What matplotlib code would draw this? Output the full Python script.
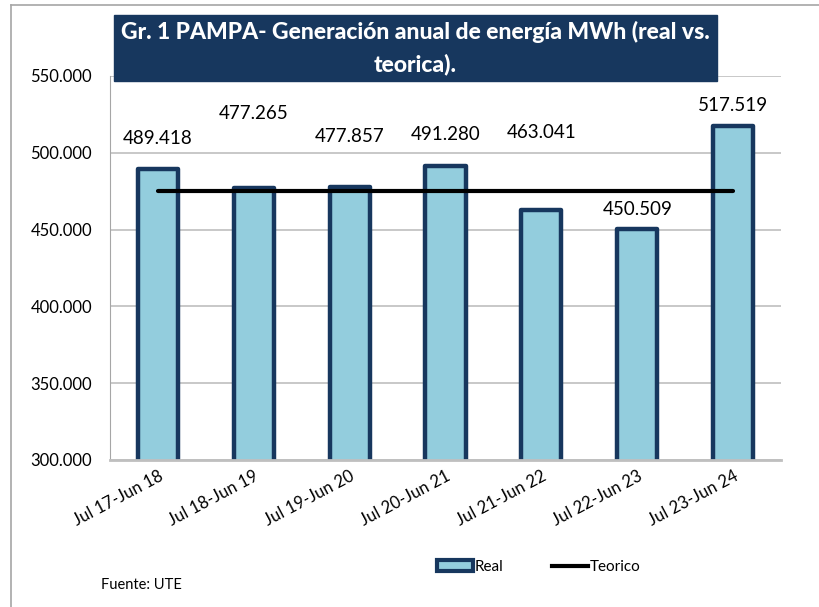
import matplotlib
matplotlib.use("Agg")
import matplotlib.pyplot as plt
from matplotlib.patches import Rectangle, Patch
from matplotlib.lines import Line2D
from matplotlib.ticker import FuncFormatter

categories = ["Jul 17-Jun 18", "Jul 18-Jun 19", "Jul 19-Jun 20", "Jul 20-Jun 21",
              "Jul 21-Jun 22", "Jul 22-Jun 23", "Jul 23-Jun 24"]
real = [489418, 477265, 477857, 491280, 463041, 450509, 517519]
teorico = [475000] * 7
label_y = [509600, 525900, 510300, 511600, 512900, 462800, 530500]

FONT = ["Lato", "DejaVu Sans"]
plt.rcParams['font.family'] = FONT

fig = plt.figure(figsize=(8.19, 6.07), dpi=100)
W, H = 819, 607

# outer border
fig.add_artist(Line2D([11/W, 11/W], [0, 1 - 5/H], color="#A6A6A6", lw=1.2))
fig.add_artist(Line2D([11/W, 1], [1 - 5/H, 1 - 5/H], color="#A6A6A6", lw=1.2))

ax = fig.add_axes([110/W, 1 - 460/H, (781 - 110)/W, (460 - 76)/H])
x = list(range(len(categories)))
ax.bar(x, real, width=0.42, color="#93CDDD", edgecolor="#17375E", linewidth=3.2,
       joinstyle="round", zorder=2, label="Real")
ax.plot(x, teorico, color="black", lw=3, solid_capstyle="round", zorder=3, label="Teorico")

for xi, v, ly in zip(x, real, label_y):
    ax.text(xi, ly, f"{v:,}".replace(",", "."), ha="center", va="center",
            fontsize=13.5, color="black", family=FONT)

ax.set_xlim(-0.5, len(categories) - 0.5)
ax.set_ylim(300000, 550000)
ax.set_yticks(range(300000, 550001, 50000))
ax.yaxis.set_major_formatter(FuncFormatter(lambda v, p: f"{int(v):,}".replace(",", ".")))
ax.grid(axis="y", color="#BFBFBF", lw=1.2, zorder=0)
ax.set_axisbelow(True)
for s in ["top", "right"]:
    ax.spines[s].set_visible(False)
ax.spines["left"].set_color("#A6A6A6")
ax.spines["bottom"].set_color("#BFBFBF")
ax.spines["bottom"].set_linewidth(2)
ax.tick_params(axis="y", length=0, labelsize=12, pad=13)
ax.tick_params(axis="x", length=0, labelsize=12, pad=6)
ax.set_xticks(x)
ax.set_xticklabels(categories, rotation=28, ha="right", rotation_mode="anchor")

# title box
fig.add_artist(Rectangle((114/W, 1 - 81/H), (717 - 114)/W, (81 - 15)/H,
                         transform=fig.transFigure, color="#17375E", zorder=5))
fig.text((114 + 717)/2/W, 1 - 32/H, "Gr. 1 PAMPA- Generación anual de energía MWh (real vs.",
         ha="center", va="center", color="white", fontsize=16.5, fontweight="black", zorder=6)
fig.text((114 + 717)/2/W, 1 - 64/H, "teorica).",
         ha="center", va="center", color="white", fontsize=16.5, fontweight="black", zorder=6)

# legend
handles = [Patch(facecolor="#93CDDD", edgecolor="#17375E", linewidth=3, label="Real"),
           Line2D([0], [0], color="black", lw=3, label="Teorico")]
fig.legend(handles=handles, loc="center", bbox_to_anchor=(539/W, 1 - 567/H), ncol=2,
           frameon=False, fontsize=11, handlelength=2.3, handletextpad=0.15,
           columnspacing=3.2)

fig.text(101/W, 1 - 585/H, "Fuente: UTE", ha="left", va="center", fontsize=10.5)

fig.savefig("out.png", dpi=100)
